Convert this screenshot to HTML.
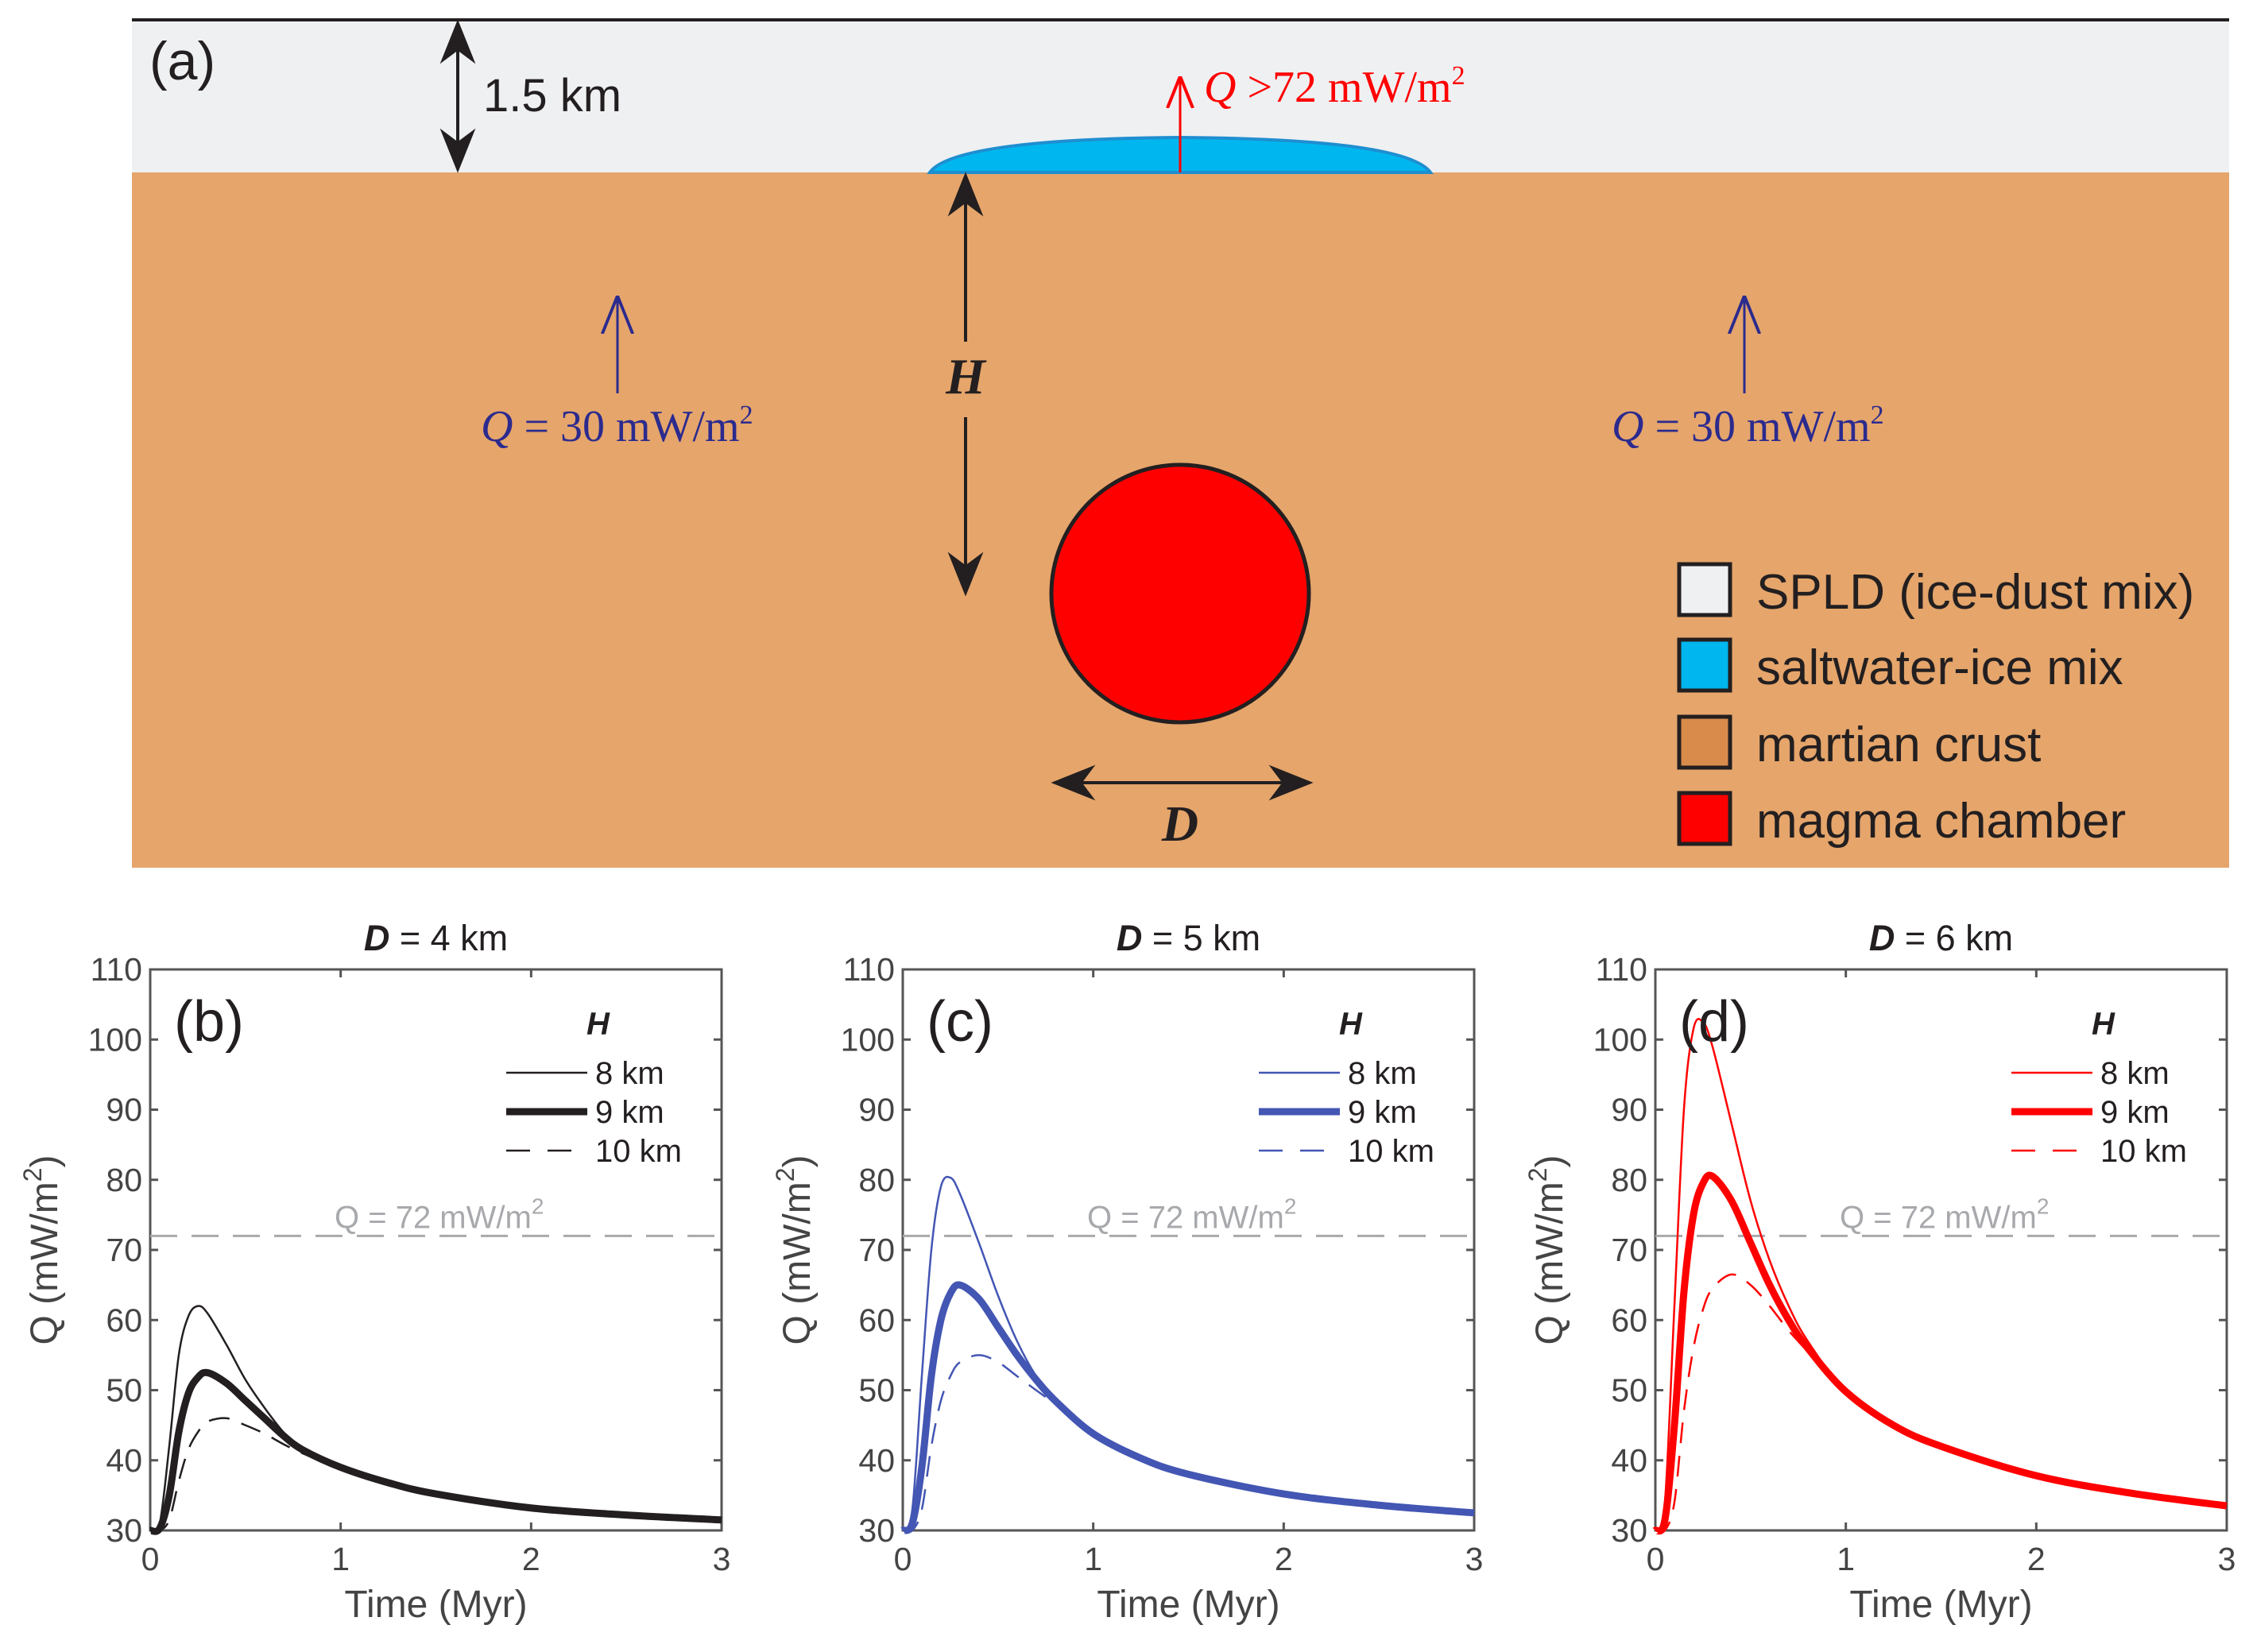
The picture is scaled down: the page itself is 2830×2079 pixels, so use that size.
<!DOCTYPE html>
<html><head><meta charset="utf-8"><style>
html,body{margin:0;padding:0;background:#fff;}
svg{display:block;}
</style></head><body>
<svg id="fig" xmlns="http://www.w3.org/2000/svg" width="2830" height="2079" viewBox="0 0 2830 2079">
<defs>
<marker id="ahb" viewBox="0 0 10 10" refX="9" refY="5" markerWidth="56" markerHeight="56" markerUnits="userSpaceOnUse" orient="auto-start-reverse"><path d="M0,1 L10,5 L0,9 L3,5 z" fill="#231f20"/></marker>
<marker id="ahr" viewBox="0 0 10 10" refX="9" refY="5" markerWidth="40" markerHeight="40" markerUnits="userSpaceOnUse" orient="auto"><path d="M0,1 L10,5 L0,9" fill="none" stroke="#ff0000" stroke-width="1"/></marker>
<marker id="ahp" viewBox="0 0 10 10" refX="9" refY="5" markerWidth="48" markerHeight="48" markerUnits="userSpaceOnUse" orient="auto"><path d="M0,1 L10,5 L0,9" fill="none" stroke="#2b2a8e" stroke-width="0.8"/></marker>
</defs>
<g>
<rect x="166" y="25" width="2639" height="194" fill="#eff0f2"/>
<line x1="166" y1="25" x2="2805" y2="25" stroke="#231f20" stroke-width="4"/>
<rect x="166" y="217" width="2639" height="875" fill="#e5a56b"/>
<path d="M1170,217 Q1200,175 1485,173 Q1770,175 1800,217 Z" fill="#00b6ee" stroke="#1f8ed0" stroke-width="4"/>
<circle cx="1485" cy="747" r="162" fill="#ff0000" stroke="#231f20" stroke-width="5"/>
<text x="188" y="100" font-family="Liberation Sans, sans-serif" font-size="68" fill="#231f20">(a)</text>
<line x1="576" y1="30" x2="576" y2="212" stroke="#231f20" stroke-width="4" marker-start="url(#ahb)" marker-end="url(#ahb)"/>
<text x="608" y="140" font-family="Liberation Sans, sans-serif" font-size="58" fill="#231f20">1.5 km</text>
<line x1="1485" y1="217" x2="1485" y2="100" stroke="#ff0000" stroke-width="3" marker-end="url(#ahr)"/>
<text x="1515" y="128" font-family="Liberation Serif, serif" font-size="56" fill="#ff0000"><tspan font-style="italic">Q</tspan> &gt;72 mW/m<tspan font-size="34" dy="-22">2</tspan></text>
<line x1="1215" y1="430" x2="1215" y2="222" stroke="#231f20" stroke-width="4" marker-end="url(#ahb)"/>
<line x1="1215" y1="525" x2="1215" y2="745" stroke="#231f20" stroke-width="4" marker-end="url(#ahb)"/>
<text x="1215" y="495" text-anchor="middle" font-family="Liberation Serif, serif" font-style="italic" font-weight="bold" font-size="64" fill="#231f20">H</text>
<line x1="1328" y1="985" x2="1647" y2="985" stroke="#231f20" stroke-width="4" marker-start="url(#ahb)" marker-end="url(#ahb)"/>
<text x="1485" y="1058" text-anchor="middle" font-family="Liberation Serif, serif" font-style="italic" font-weight="bold" font-size="64" fill="#231f20">D</text>
<line x1="777" y1="495" x2="777" y2="377" stroke="#2b2a8e" stroke-width="3" marker-end="url(#ahp)"/>
<text x="605" y="555" font-family="Liberation Serif, serif" font-size="56" fill="#2b2a8e"><tspan font-style="italic">Q</tspan> = 30 mW/m<tspan font-size="34" dy="-22">2</tspan></text>
<line x1="2195" y1="495" x2="2195" y2="377" stroke="#2b2a8e" stroke-width="3" marker-end="url(#ahp)"/>
<text x="2028" y="555" font-family="Liberation Serif, serif" font-size="56" fill="#2b2a8e"><tspan font-style="italic">Q</tspan> = 30 mW/m<tspan font-size="34" dy="-22">2</tspan></text>
<g font-family="Liberation Sans, sans-serif" font-size="62" fill="#231f20">
<rect x="2113" y="710" width="64" height="64" fill="#eff0f2" stroke="#231f20" stroke-width="5"/><text x="2210" y="766">SPLD (ice-dust mix)</text>
<rect x="2113" y="805" width="64" height="64" fill="#00b6ee" stroke="#231f20" stroke-width="5"/><text x="2210" y="861">saltwater-ice mix</text>
<rect x="2113" y="902" width="64" height="64" fill="#d98b4b" stroke="#231f20" stroke-width="5"/><text x="2210" y="958">martian crust</text>
<rect x="2113" y="998" width="64" height="64" fill="#ff0000" stroke="#231f20" stroke-width="5"/><text x="2210" y="1054">magma chamber</text>
</g>
</g>
<g id="plots"></g>
</svg>
<script>
const times = [0,0.05,0.1,0.15,0.2,0.25,0.3,0.4,0.5,0.6,0.7,0.8,1,1.25,1.5,2,2.5,3];
const b8  = [30,31,42,55,60.5,62,61,56.5,51.5,47.5,44,41.5,39,36.8,35.2,33.2,32.2,31.5];
const b9  = [30,30.3,35,44,49.5,51.8,52.5,51,48.5,46,43.5,41.5,39,36.8,35.2,33.2,32.2,31.5];
const b10 = [30,30,31.5,37,41.5,44,45.5,46,45,43.8,42.3,41,38.8,36.8,35.2,33.2,32.2,31.5];
const c8  = [30,33,52,70,79,80.3,78,71,63.5,57,52,48.5,43.8,40.3,38,35.2,33.6,32.5];
const c9  = [30,31,39,52,60,63.8,65,63,59,55,51.5,48.5,43.8,40.3,38,35.2,33.6,32.5];
const c10 = [30,30,33,42,48.5,52,54,55,54,52,50,48,43.6,40.3,38,35.2,33.6,32.5];
const d8  = [30,34,62,90,101.5,102.5,99,88,77,68.5,62,57,49.8,45,42,37.8,35.3,33.5];
const d9  = [30,31.5,45,64,75,79.5,80.5,77,71,65,60,56,49.8,45,42,37.8,35.3,33.5];
const d10 = [30,30,34,47,56,61.5,64.5,66.5,65,62,58.5,55.5,49.5,45,42,37.8,35.3,33.5];
const yTicks = [30,40,50,60,70,80,90,100,110];
const xTicks = [0,1,2,3];
const panelTitles = ["4","5","6"];
const panelLetters = ["(b)","(c)","(d)"];
const panelColors = ["#231f20","#4356b3","#ff0000"];
const legendLabels = ["8 km","9 km","10 km"];
const threshold = 72;

(function(){
const NS="http://www.w3.org/2000/svg";
const root=document.getElementById('plots');
function mk(tag,attrs,parent){const e=document.createElementNS(NS,tag);for(const k in attrs)e.setAttribute(k,attrs[k]);parent.appendChild(e);return e;}
const series=[[b8,b9,b10],[c8,c9,c10],[d8,d9,d10]];
const lefts=[189,1136,2083];
const W=719, axTop=1220, axBottom=1926;
const styles=[{w:2.5,d:null},{w:9,d:null},{w:2.5,d:"26 16"}];
for(let p=0;p<3;p++){
  const L=lefts[p];
  const xs=t=>L+t/3*W;
  const ys=v=>axBottom-(v-30)/80*(axBottom-axTop);
  const g=mk('g',{},root);
  
  
  const col=panelColors[p];
  const box=mk('rect',{x:L,y:axTop,width:W,height:axBottom-axTop,fill:'none',stroke:'#555',"stroke-width":3},g);
  
  
  yTicks.forEach(v=>{
    const y=ys(v);
    mk('line',{x1:L,y1:y,x2:L+10,y2:y,stroke:'#555',"stroke-width":3},g);
    mk('line',{x1:L+W,y1:y,x2:L+W-10,y2:y,stroke:'#555',"stroke-width":3},g);
    const t=mk('text',{x:L-10,y:y+14,"text-anchor":"end","font-family":"Liberation Sans, sans-serif","font-size":41,fill:'#444'},g);
    t.textContent=v;
    
    
  });
  xTicks.forEach(v=>{
    const x=xs(v);
    mk('line',{x1:x,y1:axBottom,x2:x,y2:axBottom-10,stroke:'#555',"stroke-width":3},g);
    mk('line',{x1:x,y1:axTop,x2:x,y2:axTop+10,stroke:'#555',"stroke-width":3},g);
    const t=mk('text',{x:x,y:axBottom+50,"text-anchor":"middle","font-family":"Liberation Sans, sans-serif","font-size":41,fill:'#444'},g);
    t.textContent=v;
    
    
  });
  const xl=mk('text',{x:L+W/2,y:2035,"text-anchor":"middle","font-family":"Liberation Sans, sans-serif","font-size":48,fill:'#444'},g);
  xl.textContent='Time (Myr)';
  
  
  const yl=mk('text',{x:0,y:0,"text-anchor":"middle","font-family":"Liberation Sans, sans-serif","font-size":48,fill:'#444',transform:`translate(${L-117},${(axTop+axBottom)/2}) rotate(-90)`},g);
  yl.innerHTML='Q (mW/m<tspan font-size="32" dy="-20">2</tspan><tspan dy="20">)</tspan>';
  
  
  const tt=mk('text',{x:L+W/2,y:1196,"text-anchor":"middle","font-family":"Liberation Sans, sans-serif","font-size":45,fill:'#231f20'},g);
  tt.innerHTML='<tspan font-weight="bold" font-style="italic">D</tspan> = '+panelTitles[p]+' km';
  
  
  const th=mk('line',{x1:L,y1:ys(threshold),x2:L+W,y2:ys(threshold),stroke:'#a7a9ac',"stroke-width":3,"stroke-dasharray":"34 18"},g);
  
  
  const tl=mk('text',{x:L+232,y:ys(threshold)-10,"font-family":"Liberation Sans, sans-serif","font-size":40,fill:'#a7a9ac'},g);
  tl.innerHTML='Q = 72 mW/m<tspan font-size="28" dy="-18">2</tspan>';
  
  
  series[p].forEach((arr,i)=>{
    const pts=arr.map((v,k)=>[xs(times[k]),ys(v)]);
    let d='M'+pts[0][0]+','+pts[0][1];
    for(let k=0;k<pts.length-1;k++){
      const p0=pts[Math.max(0,k-1)],p1=pts[k],p2=pts[k+1],p3=pts[Math.min(pts.length-1,k+2)];
      const c1=[p1[0]+(p2[0]-p0[0])/6,p1[1]+(p2[1]-p0[1])/6];
      const c2=[p2[0]-(p3[0]-p1[0])/6,p2[1]-(p3[1]-p1[1])/6];
      d+=` C${c1[0]},${c1[1]} ${c2[0]},${c2[1]} ${p2[0]},${p2[1]}`;
    }
    const a={d:d,fill:'none',stroke:col,"stroke-width":styles[i].w,"stroke-linejoin":"round"};
    if(styles[i].d)a["stroke-dasharray"]=styles[i].d;
    const path=mk('path',a,g);
    
    
  });
  const letter=mk('text',{x:L+30,y:1310,"font-family":"Liberation Sans, sans-serif","font-size":72,fill:'#231f20'},g);
  letter.textContent=panelLetters[p];
  
  
  const lg=mk('g',{},g);
  
  
  const h=mk('text',{x:L+549,y:1302,"font-family":"Liberation Sans, sans-serif","font-size":40,"font-weight":"bold","font-style":"italic",fill:'#231f20'},lg);
  h.textContent='H';
  legendLabels.forEach((lab,i)=>{
    const y=1350+i*49;
    const a={x1:L+448,y1:y,x2:L+550,y2:y,stroke:col,"stroke-width":styles[i].w};
    if(styles[i].d)a["stroke-dasharray"]="30 22";
    mk('line',a,lg);
    const t=mk('text',{x:L+560,y:y+14,"font-family":"Liberation Sans, sans-serif","font-size":40,fill:'#231f20'},lg);
    t.textContent=lab;
    
    
  });
}
})();
</script>
</body></html>
